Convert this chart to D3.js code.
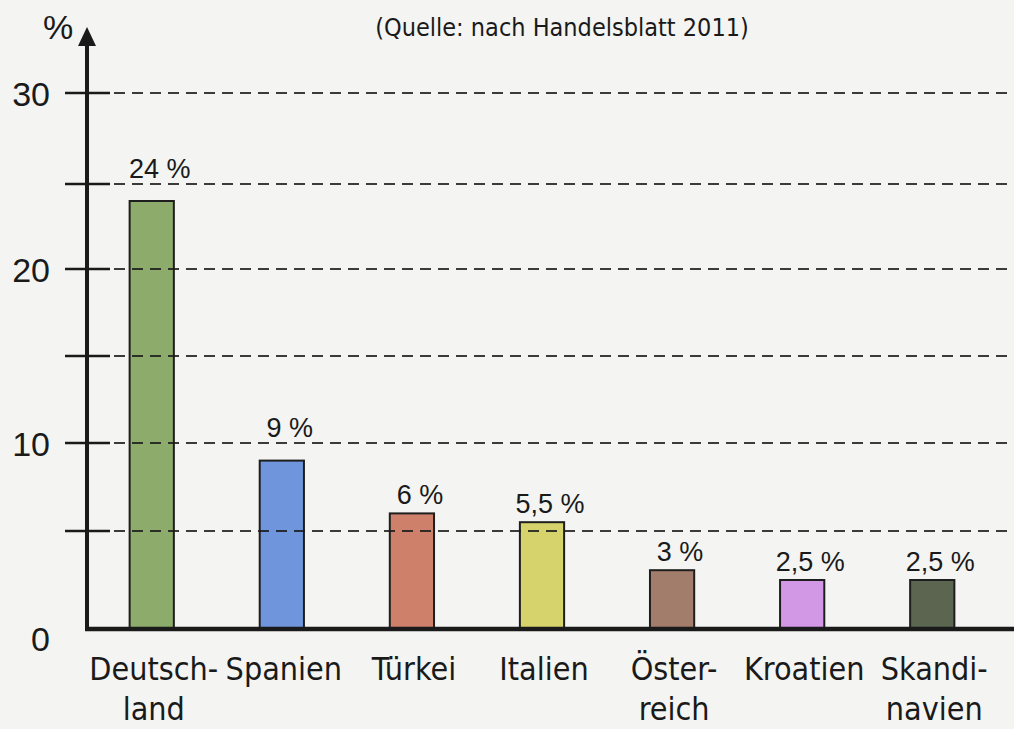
<!DOCTYPE html>
<html>
<head>
<meta charset="utf-8">
<script src="https://d3js.org/d3.v7.min.js"></script>
<style>
  body { margin: 0; background: #f4f4f2; }
  svg { display: block; }
</style>
</head>
<body>
<script>
  // data
  const countries = ["Deutschland", "Spanien", "Türkei", "Italien", "Österreich", "Kroatien", "Skandinavien"];
  const countryLines = [["Deutsch-", "land"], ["Spanien"], ["Türkei"], ["Italien"], ["Öster-", "reich"], ["Kroatien"], ["Skandi-", "navien"]];
  const shares = [24, 9, 6, 5.5, 3, 2.5, 2.5];
  const barColors = ["#8dab6a", "#6f96dc", "#cf806b", "#d7d36c", "#a27d6c", "#d298e6", "#5c6550"];
  const gridValues = [5, 10, 15, 20, 25, 30];
  const tickLabels = [0, 10, 20, 30];
  const source = "(Quelle: nach Handelsblatt 2011)";

  const w = 1014;
  const h = 729;
  const axisX = 87;

  const svg = d3.select("body")
                .append("svg")
                .attr("width", w)
                .attr("height", h);

  const x = d3.scaleBand()
              .domain(countries)
              .range([axisX + 1, 996])
              .paddingInner(0.66)
              .paddingOuter(0.32);

  // the printed axis is not evenly spaced, so follow its gridlines piece by piece
  const y = d3.scaleLinear()
              .domain([0, 5, 10, 15, 20, 25, 30])
              .range([629, 531, 443, 356, 269, 184, 93]);

  // source line
  svg.append("text")
     .attr("x", 562)
     .attr("y", 36)
     .attr("text-anchor", "middle")
     .attr("font-family", "'DejaVu Sans Condensed', 'DejaVu Sans', sans-serif")
     .attr("font-size", 25)
     .attr("fill", "#1a1a1a")
     .text(source);

  // bars
  svg.selectAll("rect.bar")
     .data(shares)
     .enter()
     .append("rect")
     .attr("class", "bar")
     .attr("x", (d, i) => x(countries[i]))
     .attr("y", (d) => y(d))
     .attr("width", x.bandwidth())
     .attr("height", (d) => y(0) - y(d))
     .attr("fill", (d, i) => barColors[i])
     .attr("stroke", "#1e1e1e")
     .attr("stroke-width", 2);

  // dashed gridlines, drawn over the bars like in print
  const grid = svg.append("g");
  grid.selectAll("line.dash")
      .data(gridValues)
      .enter()
      .append("line")
      .attr("x1", 110)
      .attr("x2", w)
      .attr("y1", (d) => y(d))
      .attr("y2", (d) => y(d))
      .attr("stroke", "#1a1a1a")
      .attr("stroke-opacity", 0.85)
      .attr("stroke-width", 2.2)
      .attr("stroke-dasharray", "11,7")
      .attr("stroke-dashoffset", -4);
  grid.selectAll("line.tick")
      .data(gridValues)
      .enter()
      .append("line")
      .attr("x1", 65)
      .attr("x2", 110)
      .attr("y1", (d) => y(d))
      .attr("y2", (d) => y(d))
      .attr("stroke", "#1a1a1a")
      .attr("stroke-width", 2.5);

  // value labels, lifted above a gridline when they would sit on it
  const fmt = (v) => String(v).replace(".", ",") + " %";
  const labelY = (v) => {
    let ly = y(v) - 9;
    gridValues.forEach((g) => {
      if (y(g) > ly - 20 && y(g) < ly + 3) ly = y(g) - 6;
    });
    return ly;
  };
  svg.selectAll("text.val")
     .data(shares)
     .enter()
     .append("text")
     .attr("class", "val")
     .attr("x", (d, i) => x(countries[i]) + x.bandwidth() / 2 + 8)
     .attr("y", labelY)
     .attr("text-anchor", "middle")
     .attr("font-family", "'Liberation Sans', Arial, sans-serif")
     .attr("font-size", 27)
     .attr("fill", "#1a1a1a")
     .text(fmt);

  // y axis labels
  const yAxis = d3.axisLeft(y)
                  .tickValues(tickLabels)
                  .tickSize(0)
                  .tickPadding(37);
  const ya = svg.append("g")
                .attr("transform", "translate(" + axisX + ",0)")
                .call(yAxis);
  ya.select(".domain").remove();
  ya.selectAll("text")
    .attr("font-family", "'Liberation Sans', Arial, sans-serif")
    .attr("font-size", 34)
    .attr("fill", "#1a1a1a")
    .attr("dy", (d) => d === 0 ? "0.62em" : "0.36em");

  // x axis line
  svg.append("line")
     .attr("x1", axisX - 2)
     .attr("x2", w)
     .attr("y1", y(0))
     .attr("y2", y(0))
     .attr("stroke", "#1a1a1a")
     .attr("stroke-width", 4.5);

  // y axis line with arrow
  svg.append("line")
     .attr("x1", axisX)
     .attr("x2", axisX)
     .attr("y1", y(0) + 2)
     .attr("y2", 44)
     .attr("stroke", "#1a1a1a")
     .attr("stroke-width", 4);
  svg.append("path")
     .attr("d", d3.line()([[axisX - 9, 46], [axisX, 27], [axisX + 9, 46]]) + "Z")
     .attr("fill", "#1a1a1a");

  svg.append("text")
     .attr("x", 58)
     .attr("y", 39)
     .attr("text-anchor", "middle")
     .attr("font-family", "'Liberation Sans', Arial, sans-serif")
     .attr("font-size", 34)
     .attr("fill", "#1a1a1a")
     .text("%");

  // country names under the bars
  const cat = svg.selectAll("text.cat")
                 .data(countries)
                 .enter()
                 .append("text")
                 .attr("class", "cat")
                 .attr("text-anchor", "middle")
                 .attr("font-family", "'DejaVu Sans Condensed', 'DejaVu Sans', sans-serif")
                 .attr("font-size", 32)
                 .attr("fill", "#1a1a1a");
  cat.selectAll("tspan")
     .data((d, i) => countryLines[i].map((t) => ({ t: t, c: d })))
     .enter()
     .append("tspan")
     .attr("x", (d) => x(d.c) + x.bandwidth() / 2 + 2)
     .attr("y", (d, j) => 680 + j * 40)
     .text((d) => d.t);
</script>
</body>
</html>
